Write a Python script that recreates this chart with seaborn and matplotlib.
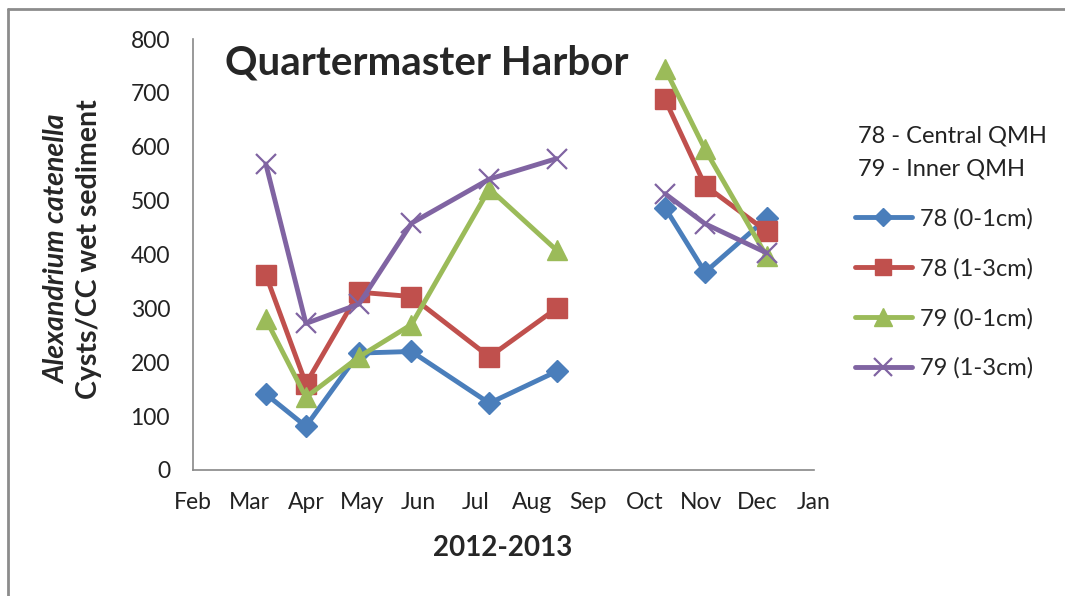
import numpy as np
import pandas as pd
import matplotlib
matplotlib.use("Agg")
import matplotlib.pyplot as plt
from matplotlib.lines import Line2D
import seaborn as sns

sns.set_style("white")
plt.rcParams["font.family"] = ["Lato", "DejaVu Sans"]

# month axis: 0 = Feb 2012 ... 11 = Jan 2013
month_labels = ["Feb", "Mar", "Apr", "May", "Jun", "Jul", "Aug", "Sep", "Oct", "Nov", "Dec", "Jan"]

# sampling positions (fractional month index) and survey block (gap in Sep)
sample_pos = [1.29, 2.0, 2.94, 3.87, 5.25, 6.44, 8.36, 9.07, 10.16]
survey = [1, 1, 1, 1, 1, 1, 2, 2, 2]

s78_0_1 = [141, 81, 217, 220, 124, 183, 487, 367, 467]
s78_1_3 = [362, 160, 330, 322, 210, 300, 688, 528, 443]
s79_0_1 = [280, 135, 210, 270, 522, 408, 745, 595, 397]
s79_1_3 = [568, 272, 308, 458, 540, 578, 513, 457, 403]

series_names = ["78 (0-1cm)", "78 (1-3cm)", "79 (0-1cm)", "79 (1-3cm)"]
series_vals = [s78_0_1, s78_1_3, s79_0_1, s79_1_3]
colors = ["#4A7EBB", "#C0504D", "#9BBB59", "#8064A2"]
markers = ["D", "s", "^", "x"]
msizes = [11, 14, 15, 15]

fig = plt.figure(figsize=(10.65, 5.96), dpi=100)
ax = fig.add_axes([193 / 1065, 1 - 470 / 596, 621 / 1065, 431 / 596])

handles = []
for name, vals, c, m, ms in zip(series_names, series_vals, colors, markers, msizes):
    df = pd.DataFrame({"pos": sample_pos, "val": vals, "survey": survey})
    mew = 1.6 if m == "x" else 1
    sns.lineplot(data=df, x="pos", y="val", units="survey", estimator=None,
                 color=c, marker=m, markersize=ms, mec=c, mfc=c, mew=mew,
                 lw=3.5, legend=False, ax=ax, sort=False)
    handles.append(Line2D([], [], color=c, marker=m, markersize=ms * 0.85,
                          mec=c, mfc=c, mew=mew, lw=3.5, label=name))

ax.set_xlim(0, 11)
ax.set_ylim(0, 800)
ax.set_xticks(range(12))
ax.set_xticklabels(month_labels)
ax.set_yticks(range(0, 801, 100))
ax.tick_params(axis="both", direction="out", length=6.5, width=1.2, color="#888888",
               labelsize=16.5, labelcolor="#222222")
ax.tick_params(axis="y", pad=10)
ax.tick_params(axis="x", pad=9)
for side in ["top", "right"]:
    ax.spines[side].set_visible(False)
for side in ["left", "bottom"]:
    ax.spines[side].set_color("#888888")
    ax.spines[side].set_linewidth(1.2)
ax.grid(False)
ax.set_xlabel("")
ax.set_ylabel("")

ax.text(0.0515, 0.944, "Quartermaster Harbor", transform=ax.transAxes,
        fontsize=29, fontweight="bold", va="center", ha="left")

fig.text(503 / 1065, 1 - 548 / 596, "2012-2013", fontsize=20, fontweight="bold",
         ha="center", va="center")
fig.text(57 / 1065, 1 - 249 / 596, "Alexandrium catenella", fontsize=20.5,
         fontweight="bold", style="italic", rotation=90, ha="center", va="center")
fig.text(89 / 1065, 1 - 249 / 596, "Cysts/CC wet sediment", fontsize=20.5,
         fontweight="bold", rotation=90, ha="center", va="center")

fig.text(858 / 1065, 1 - 136 / 596, "78 - Central QMH", fontsize=17, va="center",
         color="#222222")
fig.text(858 / 1065, 1 - 169 / 596, "79 - Inner QMH", fontsize=17, va="center",
         color="#222222")

fig.legend(handles=handles, loc="upper left", bbox_to_anchor=(855 / 1065, 1 - 208 / 596),
           frameon=False, fontsize=17, handlelength=2.4, handletextpad=0.35,
           labelspacing=1.2, borderpad=0, borderaxespad=0)

# chart frame (cropped at right and bottom)
fig.add_artist(Line2D([8 / 1065, 8 / 1065], [0, 1 - 9 / 596], color="#8c8c8c", lw=2))
fig.add_artist(Line2D([8 / 1065, 1], [1 - 9 / 596, 1 - 9 / 596], color="#8c8c8c", lw=2))

fig.savefig("out.png", dpi=100)
